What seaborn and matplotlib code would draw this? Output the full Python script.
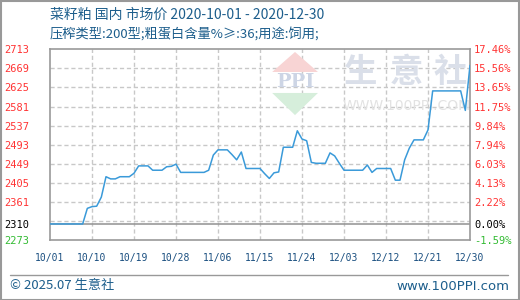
import matplotlib
matplotlib.use('Agg')
import matplotlib.pyplot as plt
import seaborn as sns
import pandas as pd
import numpy as np
from matplotlib.patches import Polygon, Rectangle
from matplotlib.lines import Line2D

# ---------------- data ----------------
start_date = '2020-10-01'
end_date = '2020-12-30'
prices = [
    2310, 2310, 2310, 2310, 2310, 2310, 2310, 2310, 2346, 2350,
    2351, 2372, 2419, 2414, 2414, 2419, 2419, 2419, 2427, 2444,
    2444, 2444, 2434, 2434, 2434, 2442, 2443, 2448, 2429, 2429,
    2429, 2429, 2429, 2429, 2434, 2469, 2481, 2481, 2481, 2470,
    2458, 2476, 2438, 2438, 2438, 2438, 2426, 2415, 2428, 2430,
    2487, 2487, 2487, 2525, 2506, 2502, 2452, 2450, 2450, 2450,
    2474, 2467, 2450, 2434, 2434, 2434, 2434, 2434, 2446, 2429,
    2438, 2438, 2438, 2438, 2411, 2411, 2458, 2485, 2504, 2504,
    2504, 2527, 2617, 2617, 2617, 2617, 2617, 2617, 2617, 2572,
    2676,
]
left_ticks = [2273, 2310, 2361, 2405, 2449, 2493, 2537, 2581, 2625, 2669, 2713]
left_labels = ['2273', '2310', '2361', '2405', '2449', '2493', '2537', '2581', '2625', '2669', '2713']
right_labels = ['-1.59%', '0.00%', '2.22%', '4.13%', '6.03%', '7.94%', '9.84%',
                '11.75%', '13.65%', '15.56%', '17.46%']
x_tick_labels = ['10/01', '10/10', '10/19', '10/28', '11/06', '11/15', '11/24',
                 '12/03', '12/12', '12/21', '12/30']
title1 = '菜籽粕 国内 市场价 2020-10-01 - 2020-12-30'
title2 = '压榨类型:200型;粗蛋白含量%≥:36;用途:饲用;'
footer_left = '© 2025.07 生意社'
footer_right = 'www.100PPI.com'
base_value = 2310

dates = pd.date_range(start_date, periods=len(prices), freq='D')
df = pd.DataFrame({'date': dates, 'price': prices})
x_ticks = pd.date_range(start_date, end_date, freq='9D')

# ---------------- style ----------------
sns.set_style('white')
plt.rcParams['font.family'] = ['Noto Sans CJK SC', 'DejaVu Sans']

W, H = 520, 300
fig = plt.figure(figsize=(W / 100, H / 100), dpi=100)
ax_left, ax_right_px, ax_top, ax_bot = 50, 470, 49.3, 240
ax = fig.add_axes([ax_left / W, 1 - ax_bot / H, (ax_right_px - ax_left) / W, (ax_bot - ax_top) / H])

red = '#ff3333'
green = '#33bb33'
blue_txt = '#1d5e8c'
grid_c = '#c8c8c8'
frame_c = '#999999'
line_c = '#3a9ad9'

# watermark (behind line)
logo_cx = (295 - 50) / 420
ax.add_patch(Polygon([[0.529, 0.881], [0.638, 0.881], [logo_cx, 0.986]], closed=True,
                     transform=ax.transAxes, color='#f8d4d4', zorder=1, lw=0))
ax.add_patch(Polygon([[0.529, 0.771], [0.638, 0.771], [logo_cx, 0.655]], closed=True,
                     transform=ax.transAxes, color='#d6eedb', zorder=1, lw=0))
ax.text(logo_cx, 0.826, 'PPI', transform=ax.transAxes, ha='center', va='center',
        fontsize=14, fontweight='bold', color='#cdd5e5', family='DejaVu Serif', zorder=1)
for cx, ch in zip([0.740, 0.848, 0.952], '生意社'):
    ax.text(cx, 0.876, ch, transform=ax.transAxes, ha='center', va='center',
            fontsize=24, fontweight='bold', color='#dadfe9', zorder=1)
ax.text(0.848, 0.703, 'WWW.100PPI.COM', transform=ax.transAxes, ha='center', va='center',
        fontsize=10, color='#e2e2e2', family='DejaVu Sans', zorder=1)

# grid
for gv in np.arange(left_ticks[0] + 44, left_ticks[-1] - 1, 44):
    ax.axhline(gv, color=grid_c, lw=1, ls=(0, (3, 2)), zorder=0.5)
for xd in x_ticks[1:-1]:
    ax.axvline(xd, color=grid_c, lw=1, ls=(0, (3, 2)), zorder=0.5)
ax.axhline(base_value, color=frame_c, lw=1.2, zorder=2)

sns.lineplot(data=df, x='date', y='price', ax=ax, color=line_c, lw=1.1, zorder=3)

ax.set_xlim(dates[0], pd.Timestamp(end_date))
ax.set_ylim(left_ticks[0], left_ticks[-1])
ax.set_xlabel('')
ax.set_ylabel('')
for s in ax.spines.values():
    s.set_color(frame_c)
    s.set_linewidth(1.2)

ax.set_xticks(x_ticks)
ax.set_xticklabels(x_tick_labels, family='DejaVu Sans Mono', fontsize=7, color='#1a4f80')
ax.tick_params(axis='x', length=0, pad=9)
ax.set_yticks(left_ticks)
ax.set_yticklabels(left_labels, family='DejaVu Sans Mono', fontsize=7.5)
ax.tick_params(axis='y', length=0, pad=15)
for t in ax.get_yticklabels():
    t.set_color(red)
ax.get_yticklabels()[0].set_color(green)
ax.get_yticklabels()[1].set_color('black')

ax2 = ax.twinx()
ax2.set_ylim(left_ticks[0], left_ticks[-1])
ax2.set_yticks(left_ticks)
ax2.set_yticklabels(right_labels, family='DejaVu Sans Mono', fontsize=7.5)
ax2.tick_params(axis='y', length=0, pad=3)
for t in ax2.get_yticklabels():
    t.set_color(red)
ax2.get_yticklabels()[0].set_color(green)
ax2.get_yticklabels()[1].set_color('black')
for s in ax2.spines.values():
    s.set_visible(False)
ax2.grid(False)

# titles
fig.text(50 / W, 1 - 15 / H, title1, ha='left', va='center', fontsize=10, color=blue_txt)
fig.text(50 / W, 1 - 34 / H, title2, ha='left', va='center', fontsize=9.5, color=blue_txt)

# footer
fig.add_artist(Line2D([10 / W, 508 / W], [1 - 275 / H, 1 - 275 / H], transform=fig.transFigure,
                      color=frame_c, lw=1))
fig.text(10 / W, 1 - 286 / H, footer_left, ha='left', va='center', fontsize=9.5, color=blue_txt)
fig.text(509 / W, 1 - 286 / H, footer_right, ha='right', va='center', fontsize=9.5,
         color=blue_txt, family='DejaVu Sans')

# outer border
fig.add_artist(Rectangle((0.5 / W, 0.5 / H), 1 - 1.5 / W, 1 - 1.5 / H, transform=fig.transFigure,
                         fill=False, edgecolor=frame_c, lw=1.5))

fig.savefig('out.png', dpi=100)
